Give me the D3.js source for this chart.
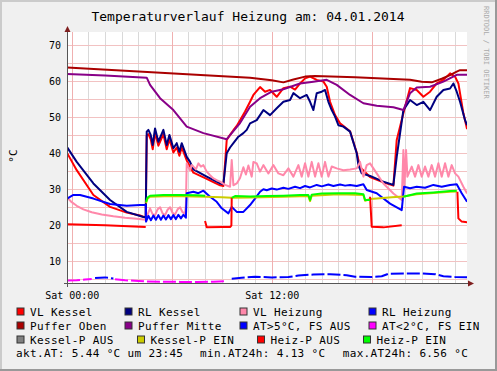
<!DOCTYPE html>
<html>
<head>
<meta charset="utf-8">
<script src="https://cdn.jsdelivr.net/npm/d3@7"></script>
<style>
  html, body { margin: 0; padding: 0; background: #f0f0f0; }
  svg { display: block; }
  text { font-family: "DejaVu Sans Mono", monospace; fill: #000; }
</style>
</head>
<body>
<div id="grafico"></div>
<script>
// ---- data (hours since 04.01.2014 00:00, °C) ----
const vlKessel = [[-0.28,40.0],[0.3,35.2],[1.3,28.3],[2.3,25.0],[3.3,23.4],[4.1,22.6],[4.44,22.0],
  [4.5,44.7],[4.6,45.2],[4.74,43.8],[4.86,41.0],[5.0,45.6],[5.2,42.0],[5.5,45.2],[5.7,41.0],[5.86,43.8],
  [6.1,40.1],[6.3,41.5],[6.46,39.2],[6.6,41.5],[6.9,37.9],[7.3,34.5],[8.1,32.8],[8.9,31.0],[9.1,30.8],
  [9.2,37.1],[9.3,43.6],[9.5,45.0],[9.7,46.3],[9.9,47.5],[10.1,49.1],[10.4,51.5],[10.7,54.2],[10.9,56.1],
  [11.3,58.3],[11.6,57.0],[11.9,57.5],[12.3,55.6],[12.7,58.0],[13.1,58.4],[13.4,57.6],[13.7,59.3],[14.0,60.7],
  [14.3,61.2],[14.7,60.3],[15.1,59.8],[15.3,58.4],[15.5,54.2],[15.8,50.5],[16.1,48.2],[16.7,46.0],[17.1,40.1],
  [17.3,36.0],[17.9,33.3],[18.7,31.8],[19.3,30.9],[19.5,43.6],[19.9,51.0],[20.3,58.0],[20.7,57.5],[21.1,55.6],
  [21.5,57.0],[21.9,59.3],[22.3,60.3],[22.7,62.1],[23.0,61.2],[23.2,59.3],[23.5,51.0],[23.72,46.6]];

const rlKessel = [[-0.28,41.6],[0.3,37.5],[1.3,31.5],[2.3,26.9],[3.3,23.6],[4.3,22.2],[4.44,22.0],
  [4.5,45.9],[4.6,46.4],[4.74,45.0],[4.86,42.2],[5.0,46.8],[5.2,43.1],[5.5,46.4],[5.7,42.2],[5.86,45.0],
  [6.1,41.3],[6.3,42.7],[6.46,40.3],[6.6,42.7],[6.9,38.9],[7.1,37.5],[7.3,35.4],[8.1,33.4],[8.9,31.5],[9.1,31.3],
  [9.3,39.9],[9.5,41.5],[9.7,42.7],[10.0,44.5],[10.3,45.5],[10.5,46.4],[10.7,48.2],[11.1,49.1],[11.5,51.9],
  [11.9,50.5],[12.3,52.4],[12.7,54.2],[13.1,54.7],[13.3,56.6],[13.7,55.2],[14.1,56.1],[14.3,54.2],[14.5,51.9],
  [14.7,56.6],[15.0,57.0],[15.2,57.5],[15.4,54.2],[15.6,51.9],[15.8,50.1],[16.0,47.7],[16.3,47.3],[16.7,45.9],
  [17.1,39.9],[17.2,36.6],[17.4,34.3],[17.9,33.6],[18.7,32.0],[19.3,31.1],[19.5,38.9],[19.7,45.4],[19.9,51.9],
  [20.3,54.7],[20.7,53.3],[21.1,54.2],[21.5,51.9],[21.9,55.6],[22.3,57.5],[22.7,57.9],[22.9,59.3],[23.1,57.0],
  [23.3,54.2],[23.6,49.1],[23.72,47.7]];

const vlHeizung = [[-0.28,27.6],[0.0,26.3],[0.3,25.3],[0.7,24.3],[1.2,23.5],[1.8,22.9],[2.5,22.4],[3.2,22.0],
  [3.9,21.7],[4.44,21.4],[4.5,22.2],[4.7,24.6],[4.85,23.0],[5.0,22.7],[5.15,24.3],[5.3,24.9],[5.45,23.2],
  [5.6,22.7],[5.75,24.2],[5.9,24.9],[6.05,23.3],[6.2,22.9],[6.35,24.3],[6.5,24.9],[6.65,23.5],[6.8,23.2],
  [6.85,25.5],[6.9,37.1],[7.0,36.0],[7.1,35.2],[7.2,36.6],[7.3,36.2],[7.45,35.4],[7.6,37.1],[7.75,36.2],
  [7.9,36.6],[8.1,34.8],[8.3,33.8],[8.5,32.9],[8.7,32.4],[8.9,32.0],[9.2,31.1],[9.5,30.6],[9.6,38.0],
  [9.7,31.0],[9.9,31.5],[10.1,33.0],[10.3,36.0],[10.45,34.0],[10.6,36.5],[10.8,33.4],[10.9,37.5],[11.1,37.1],
  [11.3,34.8],[11.5,36.6],[11.8,34.3],[12.1,36.6],[12.4,34.3],[12.7,33.8],[13.0,35.7],[13.3,33.4],[13.6,36.6],
  [13.8,33.4],[14.0,37.1],[14.2,33.4],[14.4,37.5],[14.6,33.4],[14.8,37.1],[15.0,33.4],[15.2,37.5],[15.4,33.4],
  [15.6,36.2],[15.9,35.7],[16.3,35.2],[16.7,35.4],[17.1,35.7],[17.3,37.5],[17.5,33.4],[17.7,36.6],[17.9,37.1],
  [18.3,34.3],[18.7,31.5],[19.3,28.7],[19.8,26.9],[19.9,40.8],[19.96,30.6],[20.06,40.8],[20.14,33.4],[20.4,36.2],
  [20.6,33.4],[20.8,36.6],[21.0,33.4],[21.2,36.2],[21.4,33.4],[21.6,36.6],[21.8,33.4],[22.0,37.1],[22.2,33.4],
  [22.4,37.1],[22.6,33.4],[22.8,36.6],[23.0,34.3],[23.2,33.4],[23.5,30.6],[23.72,28.7]];

const rlHeizung = [[-0.28,27.3],[0.1,28.3],[0.5,28.3],[1.3,27.3],[2.3,25.8],[3.3,25.3],[4.1,25.5],[4.44,25.5],
  [4.46,20.9],[4.6,22.5],[4.75,21.3],[4.9,22.6],[5.05,21.4],[5.2,22.7],[5.35,21.4],[5.5,22.6],[5.65,21.5],
  [5.8,22.7],[5.95,21.6],[6.1,22.7],[6.25,21.6],[6.4,22.8],[6.55,21.8],[6.7,22.8],[6.85,22.0],[6.9,28.8],
  [7.3,29.2],[7.6,28.8],[7.9,29.5],[8.3,27.8],[8.7,26.4],[9.0,24.6],[9.4,23.2],[9.6,25.0],[9.9,23.6],
  [10.3,23.6],[10.7,25.5],[11.1,27.9],[11.3,29.2],[11.5,29.9],[11.7,29.6],[12.0,30.1],[12.3,29.8],[12.7,30.3],
  [13.0,30.0],[13.4,30.6],[13.7,30.2],[14.0,30.8],[14.3,30.4],[14.7,31.1],[15.0,30.7],[15.4,31.2],[15.7,30.8],
  [16.1,31.2],[16.4,30.9],[16.7,31.1],[17.1,30.8],[17.5,31.3],[17.7,29.7],[18.3,28.8],[19.1,25.9],[19.8,24.1],
  [19.94,30.6],[20.3,30.2],[20.7,30.6],[21.2,30.3],[21.7,31.1],[22.2,30.6],[22.7,31.1],[23.1,31.3],[23.4,28.8],
  [23.72,26.4]];

const pufferOben = [[-0.28,63.7],[4,62.6],[8,61.6],[10.7,60.9],[12,60.2],[12.7,59.6],[13.3,60.4],[14,61.2],
  [14.6,61.4],[17,61.0],[20.3,60.3],[21,59.8],[21.6,59.6],[22.2,60.6],[22.7,61.6],[23.1,62.6],[23.3,63.0],
  [23.72,63.0]];

const pufferMitte = [[-0.28,61.9],[2,61.5],[4.5,60.9],[4.7,58.9],[5.3,55.2],[6.1,51.9],[6.9,47.3],[7.9,45.5],
  [9.3,43.8],[10.1,48.3],[10.7,52.8],[11.3,55.2],[12.0,57.0],[12.7,57.7],[13.7,59.3],[14.5,59.8],[15.3,60.3],
  [15.9,58.9],[16.7,56.1],[17.5,53.8],[18.3,53.1],[19.3,52.7],[19.9,51.9],[20.3,56.6],[20.7,58.2],[21.5,58.4],
  [22.3,59.8],[23.1,61.7],[23.72,61.7]];

// Außentemperatur
const aussenTemp = [[-0.28,4.5],[0.3,4.6],[0.8,4.8],[1.2,4.95],[1.4,5.2],[2.0,5.4],[2.5,5.1],[2.6,4.9],
  [3.2,4.6],[4.0,4.4],[4.5,4.25],[5.5,4.2],[6.5,4.15],[7.5,4.15],[8.5,4.2],[9.3,4.4],[9.6,5.05],[10.2,5.3],
  [11.0,5.6],[12.0,5.4],[13.0,5.5],[13.6,5.9],[14.5,6.2],[15.5,6.3],[16.5,6.0],[17.0,5.6],[18.0,5.5],
  [18.6,5.7],[19.0,6.4],[20.0,6.5],[21.0,6.5],[21.8,6.3],[22.3,5.7],[23.0,5.5],[23.72,5.44]];

const kesselPAus = [];
const kesselPEin = [[4.46,26.0],[4.55,27.3],[4.7,27.8],[6.0,28.0],[8.0,27.8],[9.0,27.7],[9.6,27.5],
  [10.7,27.6],[12.7,27.8],[14.2,28.0],[14.3,26.6],[14.4,28.1],[16,28.5],[17.5,28.3],[17.6,26.7],[17.9,27.2],
  [18.5,27.4],[19.2,27.7],[19.9,27.9],[20.7,28.5],[22.7,29.2],[23.1,29.3]];
const heizPAus = [[-0.28,20.2],[2,19.9],[4.44,19.4],[4.44,null],[8.0,null],[8.0,21.1],[8.1,19.3],[9.0,19.4],
  [9.5,19.4],[9.58,19.8],[9.6,27.5],[9.6,null],[17.9,null],[17.9,27.8],[18.0,19.5],[18.7,19.3],[19.8,19.9],
  [19.8,null],[23.1,null],[23.14,29.2],[23.2,21.8],[23.4,20.9],[23.72,20.7]];
const heizPEin = [[4.46,26.4],[4.55,27.6],[4.7,28.1],[5.5,28.3],[6.5,28.3],[7.5,28.2],[8.0,28.1],[8.0,null],
  [9.6,null],[9.6,27.5],[9.8,28.0],[10.7,27.9],[11.7,28.0],[12.7,28.1],[13.7,28.3],[14.2,28.3],[14.3,26.9],
  [14.4,28.4],[15.0,28.7],[16.0,28.8],[17.0,28.8],[17.5,28.5],[17.6,26.9],[17.9,26.9],[17.9,null],[19.9,null],
  [19.9,27.8],[20.7,28.7],[21.7,29.0],[22.7,29.4],[23.1,29.5]];

const legendLabels = ["VL Kessel","RL Kessel","VL Heizung","RL Heizung","Puffer Oben","Puffer Mitte",
  "AT>5°C, FS AUS","AT<2°C, FS EIN","Kessel-P AUS","Kessel-P EIN","Heiz-P AUS","Heiz-P EIN"];
const yTickLabels = [10,20,30,40,50,60,70];
const xTickHours = [0,12];
const titel = "Temperaturverlauf Heizung am: 04.01.2014";
const atAktuell = "5.44", atZeit = "23:45", atMin = "4.13", atMax = "6.56";

// ---- styles / layout ----
const farben = ["#ff0000","#000080","#ff88aa","#0000ff","#aa0000","#880088","#0000ff","#ff00ff",
  "#808080","#cccc00","#ff0000","#00ff00"];
const legendeX = [16.5,124.5,239.5,368.5, 16.5,124.5,239.5,368.5, 16.5,137,257,363];
const legendeY = [315.5,329.5,343.5];

const W = 497, H = 371;
const plot = { left: 67, right: 467, top: 32, bottom: 283.5 };
const t0 = new Date(2014, 0, 4, 0, 0);
const zeit = h => new Date(t0.getTime() + h * 3600e3);
const start = zeit(-17 / 60), ende = zeit(24 - 17 / 60);

const svg = d3.select('#grafico').append('svg').attr('width', W).attr('height', H);

// background + 3D frame
svg.append('rect').attr('width', W).attr('height', H).attr('fill', '#f0f0f0');
svg.append('rect').attr('x', 0).attr('y', 0).attr('width', W).attr('height', 2).attr('fill', '#cbcbcb');
svg.append('rect').attr('x', 0).attr('y', 0).attr('width', 2).attr('height', H).attr('fill', '#cbcbcb');
svg.append('rect').attr('x', 0).attr('y', H - 2).attr('width', W).attr('height', 2).attr('fill', '#999');
svg.append('rect').attr('x', W - 2).attr('y', 0).attr('width', 2).attr('height', H).attr('fill', '#999');

svg.append('rect')
  .attr('x', plot.left).attr('y', plot.top)
  .attr('width', plot.right - plot.left).attr('height', plot.bottom - plot.top)
  .attr('fill', '#fff');

const x = d3.scaleTime().domain([start, ende]).range([plot.left, plot.right]);
const y = d3.scaleLinear().domain([3.7, 73.6]).range([plot.bottom, plot.top]);

// grid
const stunden = d3.timeHour.range(start, ende);
svg.append('g').selectAll('line')
  .data(stunden.filter(d => d.getHours() % 6 !== 0))
  .enter().append('line')
  .attr('x1', d => Math.round(x(d)) + 0.5).attr('x2', d => Math.round(x(d)) + 0.5)
  .attr('y1', plot.top).attr('y2', plot.bottom)
  .attr('stroke', '#d9d9d9').attr('stroke-width', 1);
svg.append('g').selectAll('line')
  .data(d3.range(5, 73.6, 5))
  .enter().append('line')
  .attr('x1', plot.left).attr('x2', plot.right)
  .attr('y1', d => Math.round(y(d)) + 0.5).attr('y2', d => Math.round(y(d)) + 0.5)
  .attr('stroke', '#f2c2c2').attr('stroke-width', 1);
svg.append('g').selectAll('line')
  .data(stunden.filter(d => d.getHours() % 6 === 0))
  .enter().append('line')
  .attr('x1', d => Math.round(x(d)) + 0.5).attr('x2', d => Math.round(x(d)) + 0.5)
  .attr('y1', plot.top).attr('y2', plot.bottom)
  .attr('stroke', '#f0b0b0').attr('stroke-width', 1);

// series
svg.append('clipPath').attr('id', 'clip').append('rect')
  .attr('x', plot.left).attr('y', plot.top)
  .attr('width', plot.right - plot.left).attr('height', plot.bottom - plot.top);
const g = svg.append('g').attr('clip-path', 'url(#clip)');

const linie = d3.line()
  .defined(d => d[1] != null)
  .x(d => x(zeit(d[0])))
  .y(d => y(d[1]));

const reihen = [vlKessel, rlKessel, vlHeizung, rlHeizung, pufferOben, pufferMitte,
  aussenTemp.map(d => [d[0], d[1] >= 5 ? d[1] : null]),
  aussenTemp.map(d => [d[0], d[1] < 5 ? d[1] : null]),
  kesselPAus, kesselPEin, heizPAus, heizPEin];

reihen.forEach((daten, i) => {
  if (!daten.length) return;
  g.append('path')
    .datum(daten)
    .attr('d', linie)
    .attr('fill', 'none')
    .attr('stroke', farben[i])
    .attr('stroke-width', 2)
    .attr('stroke-linejoin', 'round')
    .attr('stroke-dasharray', (i === 6 || i === 7) ? '13,3' : null);
});

// axes
svg.append('g')
  .attr('transform', `translate(0,${plot.bottom})`)
  .call(d3.axisBottom(x).tickValues(xTickHours.map(zeit)).tickFormat(d3.timeFormat('%a %H:%M'))
    .tickSize(0).tickPadding(8))
  .call(a => a.select('.domain').remove())
  .selectAll('text')
  .style('font-family', '"DejaVu Sans Mono", monospace')
  .style('font-size', '10px');

svg.append('g')
  .attr('transform', `translate(${plot.left},0)`)
  .call(d3.axisLeft(y).tickValues(yTickLabels).tickSize(0).tickPadding(6))
  .call(a => a.select('.domain').remove())
  .selectAll('text')
  .style('font-family', '"DejaVu Sans Mono", monospace')
  .style('font-size', '10px');

svg.append('line').attr('x1', 64).attr('x2', 469).attr('y1', plot.bottom).attr('y2', plot.bottom)
  .attr('stroke', '#555').attr('stroke-width', 1);
svg.append('line').attr('x1', plot.left + 0.5).attr('x2', plot.left + 0.5).attr('y1', 287).attr('y2', 30)
  .attr('stroke', '#555').attr('stroke-width', 1);
svg.append('path').attr('d', `M468,${plot.bottom - 3}L474,${plot.bottom}L468,${plot.bottom + 3}Z`).attr('fill', '#7f1f1f');
svg.append('path').attr('d', `M${plot.left - 2.5},32L${plot.left + 0.5},26L${plot.left + 3.5},32Z`).attr('fill', '#7f1f1f');

// title, unit, watermark
svg.append('text').attr('x', 248).attr('y', 20.7).attr('text-anchor', 'middle')
  .style('font-size', '13px').text(titel);
svg.append('text').attr('transform', 'translate(17,156) rotate(-90)').attr('text-anchor', 'middle')
  .style('font-size', '11px').text('°C');
svg.append('text').attr('transform', 'translate(483.5,6) rotate(90)')
  .style('font-size', '7px').style('fill', '#aaaaaa').text('RRDTOOL / TOBI OETIKER');

// legend
const leg = svg.append('g');
legendLabels.forEach((name, i) => {
  const lx = legendeX[i], ly = legendeY[Math.floor(i / 4)];
  leg.append('rect').attr('x', lx + 0.5).attr('y', ly - 7.5).attr('width', 7).attr('height', 7)
    .attr('fill', farben[i]).attr('stroke', '#333').attr('stroke-width', 1);
  leg.append('text').attr('x', lx + 13.5).attr('y', ly)
    .style('font-size', '11px').style('letter-spacing', '0.35px').text(name);
});
[[16, `akt.AT: ${atAktuell} °C um ${atZeit}`], [200, `min.AT24h: ${atMin} °C`], [342.7, `max.AT24h: ${atMax} °C`]]
  .forEach(([tx, s]) => leg.append('text').attr('x', tx).attr('y', 357)
    .style('font-size', '11px').style('letter-spacing', '0.35px').text(s));
</script>
</body>
</html>
